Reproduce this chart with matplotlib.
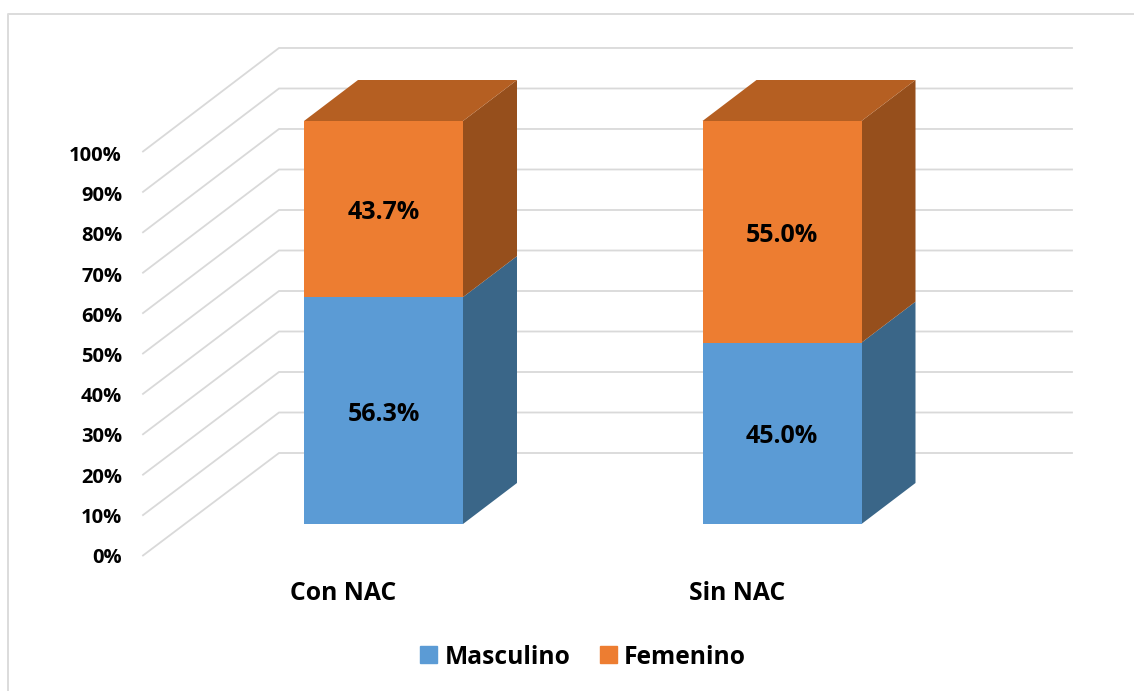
import matplotlib
matplotlib.use("Agg")
import matplotlib.pyplot as plt
from matplotlib.patches import Polygon, Patch
from matplotlib.lines import Line2D

categories = ["Con NAC", "Sin NAC"]
masculino = [56.3, 45.0]
femenino = [43.7, 55.0]
y_ticks = [0, 10, 20, 30, 40, 50, 60, 70, 80, 90, 100]

BLUE, BLUE_SIDE = "#5B9BD5", "#3A6688"
ORANGE, ORANGE_TOP, ORANGE_SIDE = "#ED7D31", "#B55F22", "#964F1C"
GRID = "#D9D9D9"

W, H = 1134, 691
plt.rcParams["font.family"] = ["Open Sans", "DejaVu Sans"]
plt.rcParams["font.weight"] = "bold"

fig = plt.figure(figsize=(W / 100, H / 100), dpi=100)
ax = fig.add_axes([0, 0, 1, 1])

# pixel scale of the front plane: categories 398.5 px apart, 403 px per 100%
PX = 1 / 398.5
PY = 100 / 403
ax.set_xlim(-383.5 * PX, (W - 383.5) * PX)
ax.set_ylim((524 - H) * PY, 524 * PY)
ax.axis("off")

# chart area border, open at right and bottom
fig.add_artist(Line2D([8 / W, 8 / W, 1], [0, 1 - 14 / H, 1 - 14 / H], color="#DCDCDC", lw=1.4))

# side wall + back wall gridlines (wall scale is a touch larger than the bars)
x_front = (143 - 383.5) * PX
x_back = (279 - 383.5) * PX
x_end = (1072 - 383.5) * PX
for t in y_ticks:
    ax.plot([x_front, x_back, x_end],
            [t * 1.0025 + (524 - 555.5) * PY, t * 1.005 + (524 - 453) * PY, t * 1.005 + (524 - 453) * PY],
            color=GRID, lw=1.3, solid_joinstyle="miter", zorder=1)
    ax.text((122 - 383.5) * PX, t * 0.9975 + (524 - 558) * PY, f"{t}%", ha="right", va="center",
            fontsize=14.5, zorder=5)

# 3d bars
half = 79.5 * PX
dx, dy = 54 * PX, 41 * PY


def box(x, lo, hi, front, side):
    ax.add_patch(Polygon([(x + half, lo), (x + half + dx, lo + dy), (x + half + dx, hi + dy), (x + half, hi)],
                         facecolor=side, edgecolor="none", zorder=2))
    ax.bar(x, hi - lo, bottom=lo, width=2 * half, color=front, zorder=3)


for i, cat in enumerate(categories):
    m, f = masculino[i], femenino[i]
    box(i, 0, m, BLUE, BLUE_SIDE)
    box(i, m, m + f, ORANGE, ORANGE_SIDE)
    top = m + f
    ax.add_patch(Polygon([(i - half, top), (i + half, top), (i + half + dx, top + dy), (i - half + dx, top + dy)],
                         facecolor=ORANGE_TOP, edgecolor="none", zorder=2))
    ax.text(i, m / 2 - 3.5 * PY, f"{m:.1f}%", ha="center", va="center", fontsize=18, zorder=5)
    ax.text(i, m + f / 2 - 3.5 * PY, f"{f:.1f}%", ha="center", va="center", fontsize=18, zorder=5)
    ax.text(i - 93.5 * PX, (524 - 594) * PY, cat, ha="left", va="center", fontsize=17.8)

handles = [Patch(color=BLUE, label="Masculino"), Patch(color=ORANGE, label="Femenino")]
fig.legend(handles=handles, loc="center", bbox_to_anchor=(583 / W, 1 - 657 / H), ncol=2, frameon=False,
           fontsize=17.7, handlelength=0.69, handleheight=0.69, handletextpad=0.3, columnspacing=1.2,
           borderpad=0, borderaxespad=0)

fig.savefig("out.png", dpi=100)
